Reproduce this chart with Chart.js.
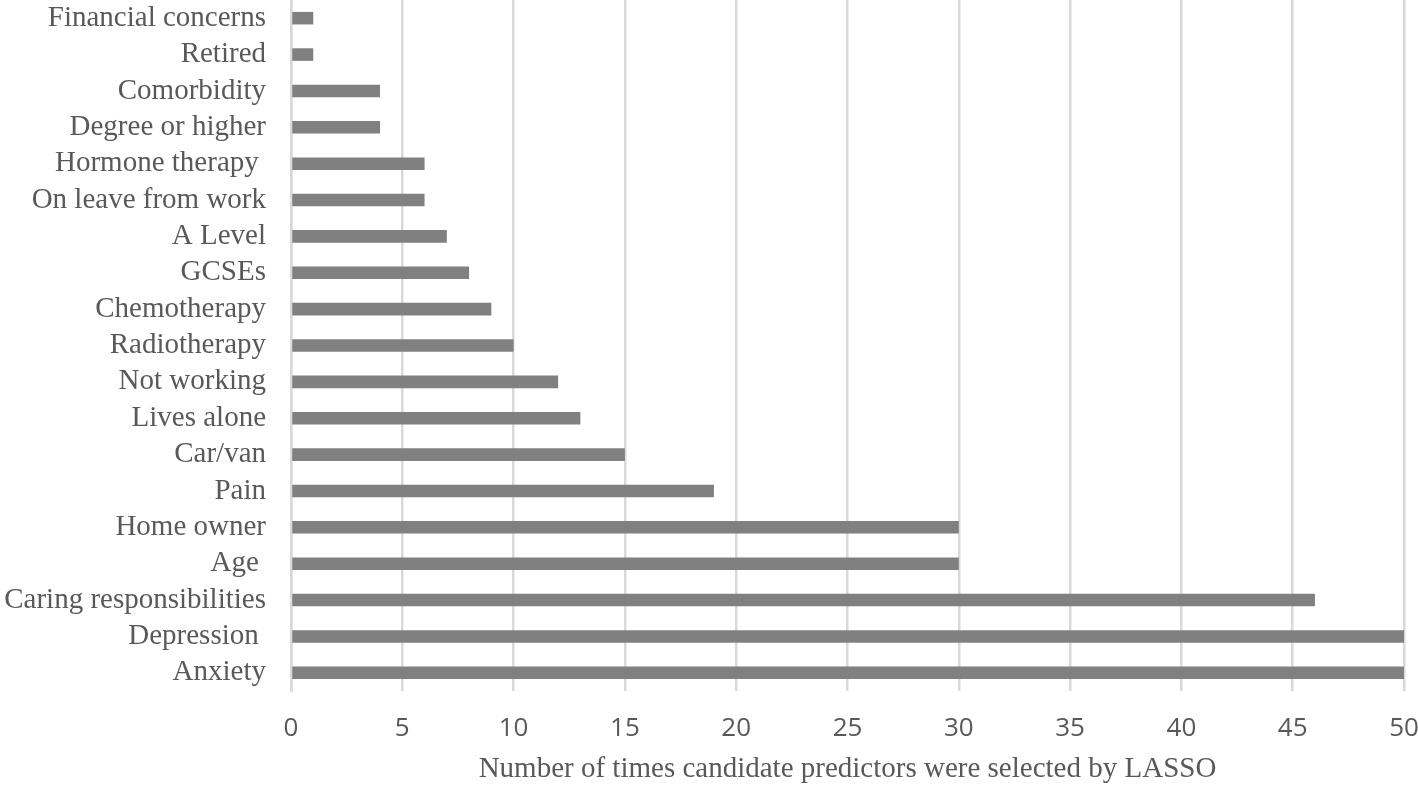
<!DOCTYPE html>
<html>
<head>
<meta charset="utf-8">
<script src="https://cdn.jsdelivr.net/npm/chart.js@4/dist/chart.umd.min.js"></script>
<style>
html,body{margin:0;padding:0;background:#fff;}
#wrap{width:1418px;height:793px;}
</style>
</head>
<body>
<div id="wrap"><canvas id="c" width="1418" height="793"></canvas></div>
<script>
const categories = ["Financial concerns","Retired","Comorbidity","Degree or higher","Hormone therapy ","On leave from work","A Level","GCSEs","Chemotherapy","Radiotherapy","Not working","Lives alone","Car/van","Pain","Home owner","Age ","Caring responsibilities","Depression ","Anxiety"];
const counts = [1,1,4,4,6,6,7,8,9,10,12,13,15,19,30,30,46,50,50];
const xTicks = [0,5,10,15,20,25,30,35,40,45,50];
const axisTitle = "Number of times candidate predictors were selected by LASSO";

new Chart(document.getElementById('c'), {
  type: 'bar',
  data: {
    labels: categories,
    datasets: [{
      data: counts,
      backgroundColor: '#808080',
      borderWidth: 0,
      barPercentage: 0.69,
      categoryPercentage: 0.5
    }]
  },
  options: {
    indexAxis: 'y',
    responsive: false,
    animation: false,
    layout: { padding: { top: 0, right: 0, bottom: 0, left: 0 } },
    plugins: { legend: { display: false }, tooltip: { enabled: false } },
    scales: {
      x: {
        min: 0, max: 50,
        afterBuildTicks: (s) => { s.ticks = xTicks.map(v => ({ value: v })); },
        afterFit: (s) => { s.height = 102; s.paddingRight = 14; s.paddingLeft = 0; },
        grid: { color: '#d9d9d9', lineWidth: 2.5, drawTicks: false },
        border: { display: false },
        ticks: { color: '#595959', font: { family: 'Open Sans', size: 26 }, padding: 22 },
        title: { display: true, text: axisTitle, color: '#595959', font: { family: 'Liberation Serif', size: 29 }, padding: { top: 0, bottom: 6 } }
      },
      y: {
        afterFit: (s) => { s.width = 291; s.paddingTop = 0; s.paddingBottom = 0; },
        grid: { display: false, drawTicks: false },
        border: { display: true, color: '#d9d9d9', width: 2.5 },
        ticks: { color: '#595959', font: { family: 'Liberation Serif', size: 29 }, padding: 25, autoSkip: false }
      }
    }
  }
});
</script>
</body>
</html>
